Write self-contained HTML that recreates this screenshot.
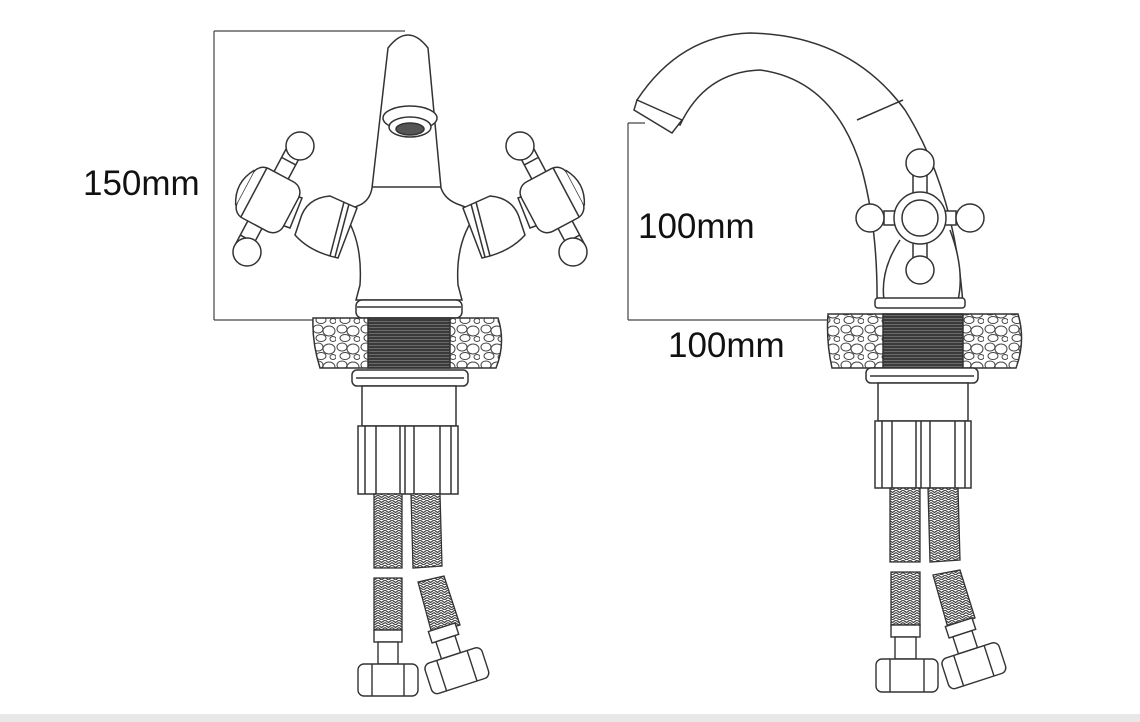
<!DOCTYPE html>
<html><head><meta charset="utf-8"><style>
html,body{margin:0;padding:0;background:#fff;width:1140px;height:722px;overflow:hidden}
svg{display:block}
text{font-family:"Liberation Sans",sans-serif;fill:#111}
</style></head><body>
<svg width="1140" height="722" viewBox="0 0 1140 722" xmlns="http://www.w3.org/2000/svg">
<defs>
<pattern id="stone" width="24" height="18" patternUnits="userSpaceOnUse">
<rect width="24" height="18" fill="#fff"/>
<ellipse cx="6" cy="5" rx="5" ry="4" fill="none" stroke="#444" stroke-width="1"/>
<ellipse cx="17" cy="7" rx="6" ry="5" fill="none" stroke="#444" stroke-width="1"/>
<ellipse cx="9" cy="14" rx="5" ry="3.5" fill="none" stroke="#444" stroke-width="1"/>
<ellipse cx="21" cy="15" rx="3" ry="2.5" fill="none" stroke="#444" stroke-width="1"/>
</pattern>
<pattern id="braid" width="7" height="5" patternUnits="userSpaceOnUse">
<rect width="7" height="5" fill="#fff"/>
<path d="M0 0 L3.5 2.5 L7 0 M0 2.5 L3.5 5 L7 2.5" fill="none" stroke="#444" stroke-width="1.2"/>
</pattern>
<pattern id="thread" width="4" height="3" patternUnits="userSpaceOnUse">
<rect width="4" height="3" fill="#3a3a3a"/>
<line x1="0" y1="0.5" x2="4" y2="0.5" stroke="#777" stroke-width="0.8"/>
</pattern>
<g id="handleL" fill="#fff" stroke="#333" stroke-width="1.5">
<path d="M357 208 L330 196 Q306 198 300 220 L295 235 Q310 252 338 258 Z"/>
<line x1="344" y1="202" x2="330" y2="256"/>
<line x1="349" y1="204" x2="335" y2="257"/>
<path d="M302 198 L290 228 L268 220 L280 190 Z"/>
<g transform="rotate(28 268 200)">
<rect x="260" y="146" width="16" height="30"/>
<rect x="260" y="224" width="16" height="30"/>
<line x1="260" y1="156" x2="276" y2="156"/>
<line x1="260" y1="244" x2="276" y2="244"/>
<rect x="242" y="172" width="52" height="56" rx="12"/>
<path d="M242 180 Q230 200 242 220"/>
<line x1="252" y1="172" x2="252" y2="228"/>
</g>
<circle cx="300" cy="146" r="14"/>
<circle cx="247" cy="252" r="14"/>
</g>
</defs>

<!-- Left dimension -->
<g stroke="#444" stroke-width="1.2" fill="none">
<line x1="214" y1="31" x2="214" y2="320"/>
<line x1="214" y1="31" x2="405" y2="31"/>
<line x1="214" y1="320" x2="356" y2="320"/>
</g>
<text x="83" y="195" font-size="35">150mm</text>

<!-- Left faucet body -->
<g fill="#fff" stroke="#333" stroke-width="1.5">
<path d="M372 188 L388 48 Q408 22 428 48 L441 188 Q445 200 460 205 L478 212 Q455 240 458 285 L462 300 L356 300 L360 285 Q363 240 343 212 L360 205 Q370 200 372 188 Z"/>
<line x1="372" y1="187" x2="441" y2="187"/>
<ellipse cx="410" cy="118" rx="27" ry="12"/>
<ellipse cx="410" cy="127" rx="21" ry="10"/>
<ellipse cx="410" cy="129" rx="14" ry="6" fill="#555"/>
<rect x="356" y="300" width="106" height="18" rx="6"/>
<line x1="357" y1="307" x2="461" y2="307"/>
</g>
<use href="#handleL"/>
<use href="#handleL" transform="translate(820 0) scale(-1 1)"/>

<!-- Left slab -->
<path d="M313 318 L498 318 Q506 343 496 368 L320 368 Q312 343 313 318 Z" fill="url(#stone)" stroke="#333" stroke-width="1.5"/>
<rect x="368" y="318" width="82" height="50" fill="url(#thread)" stroke="#333" stroke-width="1.5"/>
<!-- Left lower -->
<g fill="#fff" stroke="#333" stroke-width="1.5">
<rect x="352" y="370" width="116" height="16" rx="5"/>
<line x1="356" y1="378" x2="464" y2="378"/>
<rect x="362" y="386" width="94" height="40"/>
<rect x="358" y="426" width="100" height="68"/>
<line x1="365" y1="426" x2="365" y2="494"/>
<line x1="376" y1="426" x2="376" y2="494"/>
<line x1="400" y1="426" x2="400" y2="494"/>
<line x1="405" y1="426" x2="405" y2="494"/>
<line x1="414" y1="426" x2="414" y2="494"/>
<line x1="440" y1="426" x2="440" y2="494"/>
<line x1="451" y1="426" x2="451" y2="494"/>
</g>
<g stroke="#333" stroke-width="1.3">
<path d="M374 494 L402 494 L402 568 L374 568 Z" fill="url(#braid)"/>
<path d="M411 494 L440 494 L442 566 L413 568 Z" fill="url(#braid)"/>
<path d="M374 578 L402 578 L402 630 L374 630 Z" fill="url(#braid)"/>
<path d="M418 582 L444 576 L460 625 L432 634 Z" fill="url(#braid)"/>
</g>
<g fill="#fff" stroke="#333" stroke-width="1.4">
<rect x="374" y="630" width="28" height="12"/>
<rect x="378" y="642" width="20" height="22"/>
<rect x="358" y="664" width="60" height="32" rx="6"/>
<line x1="372" y1="664" x2="372" y2="696"/><line x1="404" y1="664" x2="404" y2="696"/>
<g transform="rotate(-18 455 665)">
<rect x="440" y="625" width="28" height="12"/>
<rect x="444" y="637" width="20" height="18"/>
<rect x="425" y="655" width="60" height="32" rx="6"/>
<line x1="439" y1="655" x2="439" y2="687"/><line x1="471" y1="655" x2="471" y2="687"/>
</g>
</g>

<!-- Right dimension -->
<g stroke="#444" stroke-width="1.2" fill="none">
<line x1="628" y1="123" x2="628" y2="320"/>
<line x1="628" y1="123" x2="645" y2="123"/>
<line x1="628" y1="320" x2="830" y2="320"/>
</g>
<text x="638" y="238" font-size="35">100mm</text>
<text x="668" y="357" font-size="35">100mm</text>

<!-- Right faucet -->
<g fill="#fff" stroke="#333" stroke-width="1.5">
<path d="M637 100 Q680 35 750 33 Q850 35 905 110 Q955 190 963 305 L877 305 Q878 230 862 170 Q835 80 760 70 Q705 72 680 125 Z"/>
<line x1="857" y1="120" x2="903" y2="100"/>
<path d="M637 100 L634 110 L672 133 L682 120 Z"/>
<path d="M900 240 Q880 270 884 300 M950 230 Q965 270 958 300"/>
<rect x="875" y="298" width="90" height="10" rx="3"/>
<rect x="913" y="175" width="14" height="18"/>
<rect x="913" y="243" width="14" height="16"/>
<rect x="884" y="211" width="16" height="14"/>
<rect x="940" y="211" width="16" height="14"/>
<circle cx="920" cy="218" r="26"/>
<circle cx="920" cy="218" r="18"/>
<circle cx="920" cy="163" r="14"/>
<circle cx="920" cy="270" r="14"/>
<circle cx="870" cy="218" r="14"/>
<circle cx="970" cy="218" r="14"/>
</g>
<path d="M828 314 L1018 314 Q1026 341 1016 368 L832 368 Q826 341 828 314 Z" fill="url(#stone)" stroke="#333" stroke-width="1.5"/>
<rect x="883" y="314" width="80" height="54" fill="url(#thread)" stroke="#333" stroke-width="1.5"/>
<g fill="#fff" stroke="#333" stroke-width="1.5">
<rect x="866" y="368" width="112" height="15" rx="5"/>
<line x1="870" y1="376" x2="974" y2="376"/>
<rect x="878" y="383" width="90" height="38"/>
<rect x="875" y="421" width="96" height="67"/>
<line x1="882" y1="421" x2="882" y2="488"/>
<line x1="892" y1="421" x2="892" y2="488"/>
<line x1="916" y1="421" x2="916" y2="488"/>
<line x1="921" y1="421" x2="921" y2="488"/>
<line x1="930" y1="421" x2="930" y2="488"/>
<line x1="955" y1="421" x2="955" y2="488"/>
<line x1="965" y1="421" x2="965" y2="488"/>
</g>
<g stroke="#333" stroke-width="1.3">
<path d="M890 488 L920 488 L920 562 L890 562 Z" fill="url(#braid)"/>
<path d="M928 488 L958 488 L960 560 L930 562 Z" fill="url(#braid)"/>
<path d="M891 572 L920 572 L920 625 L891 625 Z" fill="url(#braid)"/>
<path d="M933 575 L960 570 L975 618 L948 628 Z" fill="url(#braid)"/>
</g>
<g fill="#fff" stroke="#333" stroke-width="1.4">
<rect x="891" y="625" width="29" height="12"/>
<rect x="895" y="637" width="21" height="22"/>
<rect x="876" y="659" width="62" height="33" rx="6"/>
<line x1="890" y1="659" x2="890" y2="692"/><line x1="924" y1="659" x2="924" y2="692"/>
<g transform="rotate(-18 972 660)">
<rect x="957" y="620" width="28" height="12"/>
<rect x="961" y="632" width="20" height="18"/>
<rect x="942" y="650" width="60" height="32" rx="6"/>
<line x1="956" y1="650" x2="956" y2="682"/><line x1="988" y1="650" x2="988" y2="682"/>
</g>
</g>
<rect x="0" y="714" width="1140" height="8" fill="#e8e8e8"/>
</svg>
</body></html>
